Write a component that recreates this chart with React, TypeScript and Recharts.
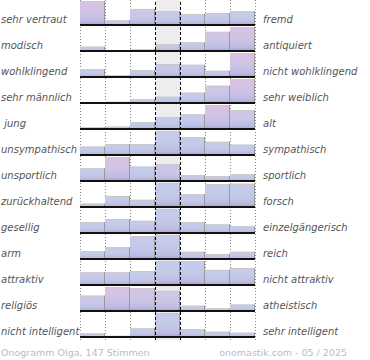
import React from 'react';
import { BarChart, Bar, Line, XAxis, YAxis, ReferenceLine, ReferenceArea, ComposedChart } from 'recharts';

// Antwortstufen (7 Felder zwischen den Gegensatzpaaren)
const kategorien = ['1', '2', '3', '4', '5', '6', '7'];

const linkeBegriffe = [
  'sehr vertraut', 'modisch', 'wohlklingend', 'sehr männlich', ' jung', 'unsympathisch',
  'unsportlich', 'zurückhaltend', 'gesellig', 'arm', 'attraktiv', 'religiös', 'nicht intelligent',
];
const rechteBegriffe = [
  'fremd', 'antiquiert', 'nicht wohlklingend', 'sehr weiblich', 'alt', 'sympathisch',
  'sportlich', 'forsch', 'einzelgängerisch', 'reich', 'nicht attraktiv', 'atheistisch', 'sehr intelligent',
];

// Relative Balkenhöhen je Zeile (Maximum der Zeile = 100)
const vertraut = [100, 19, 67, 58, 46, 50, 57];
const modisch = [18, 0, 7, 29, 36, 80, 100];
const wohlklingend = [32, 7, 28, 54, 51, 26, 100];
const maennlich = [0, 5, 15, 26, 43, 72, 100];
const jung = [7, 10, 28, 49, 61, 100, 79];
const unsympathisch = [35, 45, 45, 100, 74, 55, 43];
const unsportlich = [53, 100, 60, 70, 24, 20, 28];
const zurueckhaltend = [14, 46, 30, 100, 53, 95, 97];
const gesellig = [45, 58, 51, 100, 45, 36, 28];
const arm = [32, 49, 95, 100, 30, 21, 30];
const attraktiv = [53, 53, 58, 100, 100, 63, 71];
const religioes = [64, 100, 95, 84, 22, 11, 27];
const nichtIntelligent = [15, 5, 36, 100, 32, 22, 18];

const werte = [
  vertraut, modisch, wohlklingend, maennlich, jung, unsympathisch, unsportlich,
  zurueckhaltend, gesellig, arm, attraktiv, religioes, nichtIntelligent,
];

// Abweichung über dem Durchschnitt (0..1), hervorgehobene Felder
const ueberDurchschnitt = [
  [1, 0, 0.5, 0.2, 0, 0, 0],
  [0, 0, 0, 0, 0.1, 0.6, 1],
  [0, 0, 0, 0.2, 0.3, 0, 1],
  [0, 0, 0, 0, 0, 0.6, 1],
  [0, 0, 0, 0, 0, 1, 0.5],
  [0, 0, 0, 0, 0, 0, 0],
  [0.2, 1, 0, 0.5, 0, 0, 0],
  [0, 0, 0, 0, 0, 0, 0],
  [0, 0, 0, 0, 0, 0, 0],
  [0, 0, 0, 0, 0, 0, 0],
  [0, 0, 0, 0, 0, 0, 0],
  [0.4, 1, 0.8, 0.6, 0, 0, 0],
  [0, 0, 0, 0, 0, 0, 0],
];

const titel = 'Onogramm Olga, 147 Stimmen';
const quelle = 'onomastik.com - 05 / 2025';

const ZEILE = 26;
const BREITE = 175;
const LINKS = 80;

function mix(a: string, b: string, t: number) {
  const pa = [1, 3, 5].map((i) => parseInt(a.slice(i, i + 2), 16));
  const pb = [1, 3, 5].map((i) => parseInt(b.slice(i, i + 2), 16));
  const r = pa.map((v, i) => Math.round(v + (pb[i] - v) * t));
  return '#' + r.map((v) => v.toString(16).padStart(2, '0')).join('');
}

function Balken(props: any) {
  const { x, y, width, height, index, zeile } = props;
  if (!height || height <= 0) return null;
  return (
    <g>
      <rect x={x} y={y} width={width} height={height} fill={`url(#verlauf-${zeile}-${index})`} />
      <line x1={x} x2={x + width} y1={y + 0.5} y2={y + 0.5} stroke="#c8c8c8" />
      <line x1={x + width - 0.5} x2={x + width - 0.5} y1={y} y2={y + height} stroke="#999" />
    </g>
  );
}

function Zeile({ zeile }: { zeile: number }) {
  const daten = kategorien.map((k, i) => ({ kategorie: k, wert: werte[zeile][i] }));
  return (
    <BarChart
      width={BREITE}
      height={ZEILE}
      data={daten}
      margin={{ top: 1, right: 0, bottom: 1, left: 0 }}
      barCategoryGap={0}
      barGap={0}
    >
      <XAxis dataKey="kategorie" hide />
      <YAxis hide domain={[0, 100]} />
      <Bar dataKey="wert" isAnimationActive={false} shape={(p: any) => <Balken {...p} zeile={zeile} />} />
      <ReferenceLine y={0} stroke="#111" strokeWidth={2} />
    </BarChart>
  );
}

function Raster({ vorne }: { vorne: boolean }) {
  const n = kategorien.length;
  const mitte = Math.floor(n / 2);
  const grenzen = Array.from({ length: n + 1 }, (_, i) => i);
  const punktiert = grenzen.filter((g) => g !== mitte && g !== mitte + 1);
  const gestrichelt = [mitte, mitte + 1];
  const rasterDaten = grenzen.map((g) => ({ pos: g, null: 0 }));
  const hoehe = werte.length * ZEILE + 2;
  return (
    <ComposedChart
      width={BREITE + 12}
      height={hoehe}
      data={rasterDaten}
      margin={{ top: 0, bottom: 0, left: 6.5, right: 5.5 }}
    >
      <XAxis type="number" dataKey="pos" domain={[0, n]} hide />
      <YAxis type="number" domain={[0, 1]} hide />
      <Line dataKey="null" stroke="none" dot={false} activeDot={false} isAnimationActive={false} />
      {!vorne && <ReferenceArea x1={mitte} x2={mitte + 1} y1={0} y2={1} fill="#ededed" fillOpacity={1} stroke="none" />}
      {!vorne &&
        punktiert.map((g) => <ReferenceLine key={g} x={g} stroke="#888" strokeDasharray="1 2" />)}
      {vorne &&
        gestrichelt.map((g) => <ReferenceLine key={g} x={g} stroke="#000" strokeDasharray="3 2" />)}
    </ComposedChart>
  );
}

export default function App() {
  const label: React.CSSProperties = {
    position: 'absolute',
    fontSize: 10,
    lineHeight: '14px',
    height: 14,
    fontStyle: 'italic',
    color: '#555',
    whiteSpace: 'pre',
  };

  return (
    <div
      style={{
        position: 'relative',
        width: 370,
        height: 360,
        overflow: 'hidden',
        fontFamily: '"DejaVu Sans", sans-serif',
        background: '#fff',
      }}
    >
      <style>{'body{margin:0}'}</style>
      <svg width={0} height={0} style={{ position: 'absolute' }}>
        <defs>
          {werte.map((zeile, r) =>
            zeile.map((_, c) => {
              const a = ueberDurchschnitt[r][c];
              return (
                <linearGradient key={`${r}-${c}`} id={`verlauf-${r}-${c}`} x1="0" y1="0" x2="0" y2="1">
                  <stop offset="0" stopColor={mix('#c6cdea', '#dcc2e3', a)} />
                  <stop offset="0.55" stopColor={mix('#c3c8e8', '#cdc3e5', a)} />
                  <stop offset="0.85" stopColor="#bbbbe2" />
                  <stop offset="1" stopColor="#a69fd0" />
                </linearGradient>
              );
            })
          )}
        </defs>
      </svg>

      <div style={{ position: 'absolute', left: LINKS - 6, top: 0 }}>
        <Raster vorne={false} />
      </div>

      {werte.map((_, r) => (
        <div key={r} style={{ position: 'absolute', left: LINKS, top: r * ZEILE }}>
          <Zeile zeile={r} />
        </div>
      ))}

      <div style={{ position: 'absolute', left: LINKS - 6, top: 0 }}>
        <Raster vorne={true} />
      </div>

      {linkeBegriffe.map((t, r) => (
        <div key={'l' + r} style={{ ...label, left: 1, top: 13 + r * ZEILE }}>
          {t}
        </div>
      ))}
      {rechteBegriffe.map((t, r) => (
        <div key={'r' + r} style={{ ...label, left: 263, top: 13 + r * ZEILE }}>
          {t}
        </div>
      ))}

      <div style={{ position: 'absolute', left: 1, top: 347, fontSize: 9.5, lineHeight: '12px', color: '#bcbcbc', whiteSpace: 'pre' }}>
        {titel}
      </div>
      <div style={{ position: 'absolute', right: 23, top: 347, fontSize: 9.5, lineHeight: '12px', color: '#bcbcbc', whiteSpace: 'pre' }}>
        {quelle}
      </div>
    </div>
  );
}
